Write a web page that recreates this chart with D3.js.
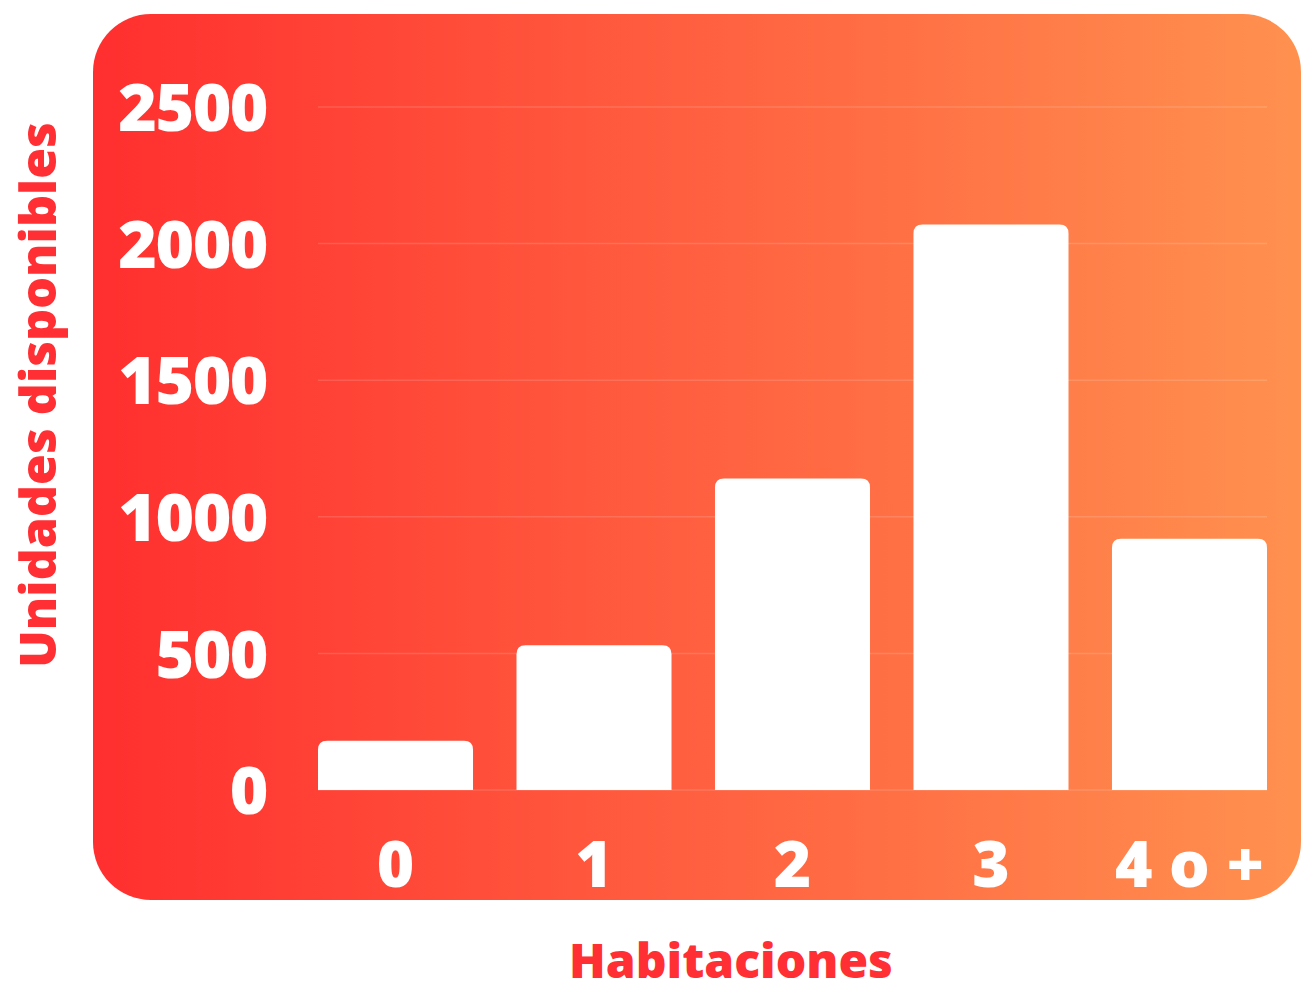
<!DOCTYPE html>
<html>
<head>
<meta charset="utf-8">
<script src="https://cdn.jsdelivr.net/npm/d3@7"></script>
<style>
  html, body { margin: 0; padding: 0; background: #ffffff; }
  svg { display: block; }
</style>
</head>
<body>
<svg id="chart" width="1301" height="993"></svg>
<script>
const categories = ["0", "1", "2", "3", "4 o +"];
const values = [180, 530, 1140, 2070, 920];
const yTicks = [0, 500, 1000, 1500, 2000, 2500];
const xTitle = "Habitaciones";
const yTitle = "Unidades disponibles";

const svg = d3.select("#chart");
const FONT = "'Open Sans', 'DejaVu Sans', sans-serif";

const defs = svg.append("defs");
const grad = defs.append("linearGradient").attr("id", "bg").attr("x1", "0%").attr("x2", "100%").attr("y1", "0%").attr("y2", "0%");
grad.append("stop").attr("offset", "0%").attr("stop-color", "#ff2f2f");
grad.append("stop").attr("offset", "50%").attr("stop-color", "#ff6040");
grad.append("stop").attr("offset", "100%").attr("stop-color", "#ff914f");

// background panel
svg.append("rect")
  .attr("x", 93).attr("y", 14).attr("width", 1208).attr("height", 886)
  .attr("rx", 58).attr("ry", 58)
  .attr("fill", "url(#bg)");

const x = d3.scaleBand().domain(categories).range([318, 1267]).paddingInner(0.219).paddingOuter(0);
const y = d3.scaleLinear().domain([0, 2500]).range([790, 107]);

// gridlines
svg.append("g").selectAll("line").data(yTicks).join("line")
  .attr("x1", 318).attr("x2", 1267)
  .attr("y1", d => y(d)).attr("y2", d => y(d))
  .attr("stroke", "#ffffff").attr("stroke-opacity", 0.14).attr("stroke-width", 1.5);

// bars with rounded top corners
const r = 9;
svg.append("g").selectAll("path").data(values).join("path")
  .attr("fill", "#ffffff")
  .attr("d", (d, i) => {
    const x0 = x(categories[i]), w = x.bandwidth();
    const yt = y(d), yb = y(0);
    return `M${x0},${yb} L${x0},${yt + r} Q${x0},${yt} ${x0 + r},${yt} L${x0 + w - r},${yt} Q${x0 + w},${yt} ${x0 + w},${yt + r} L${x0 + w},${yb} Z`;
  });

// y axis labels
const yAxis = d3.axisLeft(y).tickValues(yTicks).tickFormat(d3.format("d")).tickSize(0).tickPadding(0);
const gy = svg.append("g").attr("transform", "translate(267,0)").call(yAxis);
gy.select(".domain").remove();
gy.selectAll("text")
  .attr("fill", "#ffffff")
  .attr("font-family", FONT).attr("font-weight", 800)
  .attr("font-size", 66).attr("letter-spacing", "-1.5px")
  .attr("dy", "0.36em");

// x axis labels
const xAxis = d3.axisBottom(x).tickSize(0).tickPadding(0);
const gx = svg.append("g").attr("transform", "translate(0,887)").call(xAxis);
gx.select(".domain").remove();
gx.selectAll("text")
  .attr("fill", "#ffffff")
  .attr("font-family", FONT).attr("font-weight", 800)
  .attr("font-size", 64)
  .attr("dy", 0)
  .attr("letter-spacing", "0px");

// axis titles
svg.append("text")
  .attr("x", 731).attr("y", 978)
  .attr("text-anchor", "middle")
  .attr("fill", "#ff2f33")
  .attr("font-family", FONT).attr("font-weight", 800)
  .attr("font-size", 48)
  .text(xTitle);

svg.append("text")
  .attr("transform", "translate(56,395) rotate(-90)")
  .attr("text-anchor", "middle")
  .attr("fill", "#ff2f33")
  .attr("font-family", FONT).attr("font-weight", 800)
  .attr("font-size", 50)
  .text(yTitle);
</script>
</body>
</html>
